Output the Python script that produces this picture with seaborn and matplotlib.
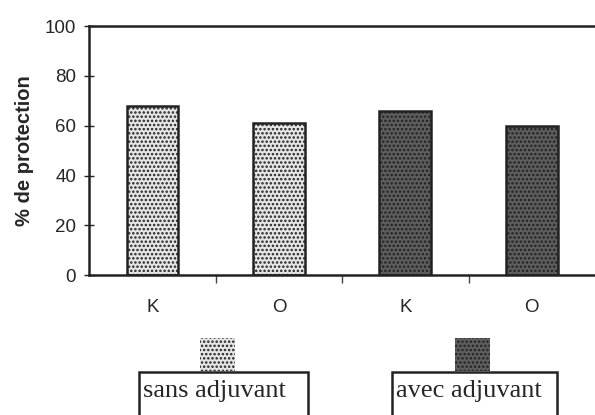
import matplotlib
matplotlib.use("Agg")
import matplotlib.pyplot as plt
from matplotlib.patches import Rectangle
import seaborn as sns
import pandas as pd

# data
souches = ["K", "O", "K", "O"]
groupes = ["sans adjuvant", "sans adjuvant", "avec adjuvant", "avec adjuvant"]
protection = [68, 61, 66, 60]
couleurs = {"sans adjuvant": "#e6e6e6", "avec adjuvant": "#5e5e5e"}

df = pd.DataFrame({"barre": ["b%d" % i for i in range(len(souches))],
                   "groupe": groupes,
                   "protection": protection})

sns.set_style("white")
plt.rcParams["font.family"] = ["Liberation Sans", "DejaVu Sans"]
plt.rcParams["hatch.linewidth"] = 1.2

fig = plt.figure(figsize=(5.95, 4.15), dpi=100)
ax = fig.add_axes([0.15, 0.337, 0.85, 0.6])

sns.barplot(data=df, x="barre", y="protection", hue="groupe", dodge=False,
            palette=couleurs, width=0.41, edgecolor="#222222", linewidth=1.8,
            legend=False, ax=ax)
for p in ax.patches:
    p.set_hatch("....")

ax.set_ylim(0, 100)
ax.set_xlim(-0.5, 3.5)
ax.set_yticks([0, 20, 40, 60, 80, 100])
ax.tick_params(axis="y", which="major", direction="inout", length=7, width=1,
               labelsize=13.5, pad=6, color="#222222", left=True)
ax.set_xticks(range(len(souches)))
ax.set_xticklabels(souches)
ax.tick_params(axis="x", which="major", length=0, labelsize=13.5, pad=17)
ax.set_xticks([0.5, 1.5, 2.5], minor=True)
ax.tick_params(axis="x", which="minor", direction="out", length=6, width=1,
               color="#444444", bottom=True)
ax.set_xlabel("")
ax.set_ylabel("% de protection", fontsize=14.5, fontweight="bold", labelpad=8)
for s in ["left", "bottom", "top"]:
    ax.spines[s].set_color("#222222")
    ax.spines[s].set_linewidth(1.8)
ax.spines["right"].set_visible(False)

# legend drawn as in the original: swatch above a framed label
legende = [("sans adjuvant", 0.336, 0.234, 0.284),
           ("avec adjuvant", 0.765, 0.659, 0.277)]
for nom, xs, xb, wb in legende:
    fig.patches.append(Rectangle((xs, 0.106), 0.059, 0.08, transform=fig.transFigure,
                                 facecolor=couleurs[nom], edgecolor="#222222",
                                 linewidth=0, hatch="....", figure=fig))
    fig.patches.append(Rectangle((xb, -0.05), wb, 0.154, transform=fig.transFigure,
                                 facecolor="white", edgecolor="#222222", linewidth=1.8,
                                 figure=fig))
    fig.text(xb + 0.007, 0.058, nom, family=["Liberation Serif", "DejaVu Serif"],
             fontsize=19, va="center", ha="left")

fig.savefig("out.png", dpi=100)
